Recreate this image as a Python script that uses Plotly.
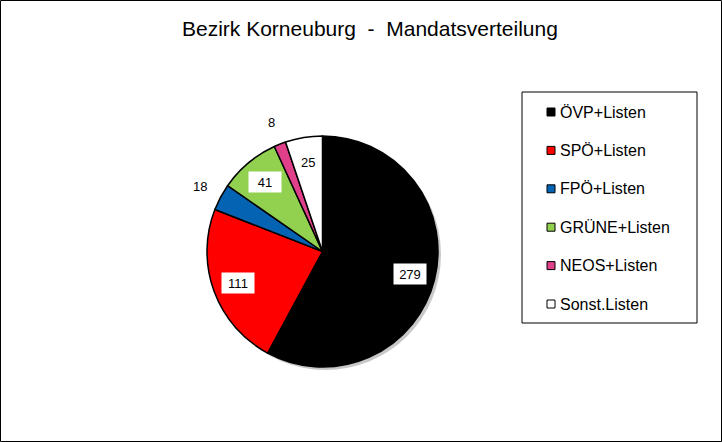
import math
import plotly.graph_objects as go

title_text = "Bezirk Korneuburg&nbsp; -&nbsp; Mandatsverteilung"
parties = ["ÖVP+Listen", "SPÖ+Listen", "FPÖ+Listen", "GRÜNE+Listen", "NEOS+Listen", "Sonst.Listen"]
seats = [279, 111, 18, 41, 8, 25]
colors = ["#000000", "#ff0000", "#0563b4", "#92d050", "#e0408a", "#ffffff"]
label_outside = [False, False, True, False, True, False]

W, H = 722, 442
FONT = "Liberation Sans, Arial, sans-serif"
cx, cy, r = 322.5, 251.5, 115.5


def dom(x0, y0, rad):
    return dict(x=[(x0 - rad) / W, (x0 + rad) / W],
                y=[(H - y0 - rad) / H, (H - y0 + rad) / H])


fig = go.Figure()
# soft shadow behind the pie
fig.add_trace(go.Pie(values=[1], labels=["shadow"], marker=dict(colors=["#b0b0b0"], line=dict(width=0)),
                     domain=dom(cx + 3, cy + 3, r), textinfo="none", hoverinfo="skip",
                     showlegend=False, sort=False, opacity=0.7))
fig.add_trace(go.Pie(values=seats, labels=parties, marker=dict(colors=colors, line=dict(color="#000000", width=1.5)),
                     domain=dom(cx, cy, r), textinfo="none", sort=False, direction="clockwise",
                     rotation=0, showlegend=False))

annotations = []
shapes = []
total = sum(seats)
cum = 0
for v, out, c in zip(seats, label_outside, colors):
    a = math.radians((cum + v / 2) / total * 360)
    cum += v
    rr = r * (1.2 if out else 0.78)
    px = cx + rr * math.sin(a)
    py = cy - rr * math.cos(a)
    ann = dict(x=px / W, y=(H - py) / H, xref="paper", yref="paper", text=str(v), showarrow=False,
               font=dict(family=FONT, size=13, color="#000000"), xanchor="center", yanchor="middle")
    if not out and c.lower() != "#ffffff":
        ann.update(bgcolor="#ffffff", width=30, height=18)
    annotations.append(ann)

# title
annotations.append(dict(x=370 / W, y=(H - 28) / H, xref="paper", yref="paper", text=title_text, showarrow=False,
                        font=dict(family=FONT, size=21, color="#000000"), xanchor="center", yanchor="middle"))

# manual legend
lx0, ly0, lx1, ly1 = 522, 92, 697, 323
shapes.append(dict(type="rect", xref="paper", yref="paper", x0=lx0 / W, x1=lx1 / W, y0=(H - ly1) / H, y1=(H - ly0) / H,
                   line=dict(color="#000000", width=1), fillcolor="#ffffff", layer="below"))
row0, step = 112, 38.4
for i, (p, c) in enumerate(zip(parties, colors)):
    yy = row0 + i * step
    shapes.append(dict(type="rect", xref="paper", yref="paper", x0=547 / W, x1=555 / W,
                       y0=(H - yy - 4) / H, y1=(H - yy + 4) / H,
                       line=dict(color="#000000", width=1), fillcolor=c))
    annotations.append(dict(x=558 / W, y=(H - yy) / H, xref="paper", yref="paper", text=p, showarrow=False,
                            font=dict(family=FONT, size=16, color="#000000"), xanchor="left", yanchor="middle"))

# outer border
shapes.append(dict(type="rect", xref="paper", yref="paper", x0=0.5 / W, x1=(W - 0.5) / W, y0=0.5 / H, y1=(H - 0.5) / H,
                   line=dict(color="#000000", width=1), fillcolor="rgba(0,0,0,0)"))

fig.update_layout(width=W, height=H, margin=dict(l=0, r=0, t=0, b=0), paper_bgcolor="#ffffff",
                  plot_bgcolor="#ffffff", annotations=annotations, shapes=shapes, showlegend=False,
                  font=dict(family=FONT))
fig.write_html("out.html", config={"displayModeBar": False},
               post_script="document.body.style.margin='0';document.body.style.padding='0';")
